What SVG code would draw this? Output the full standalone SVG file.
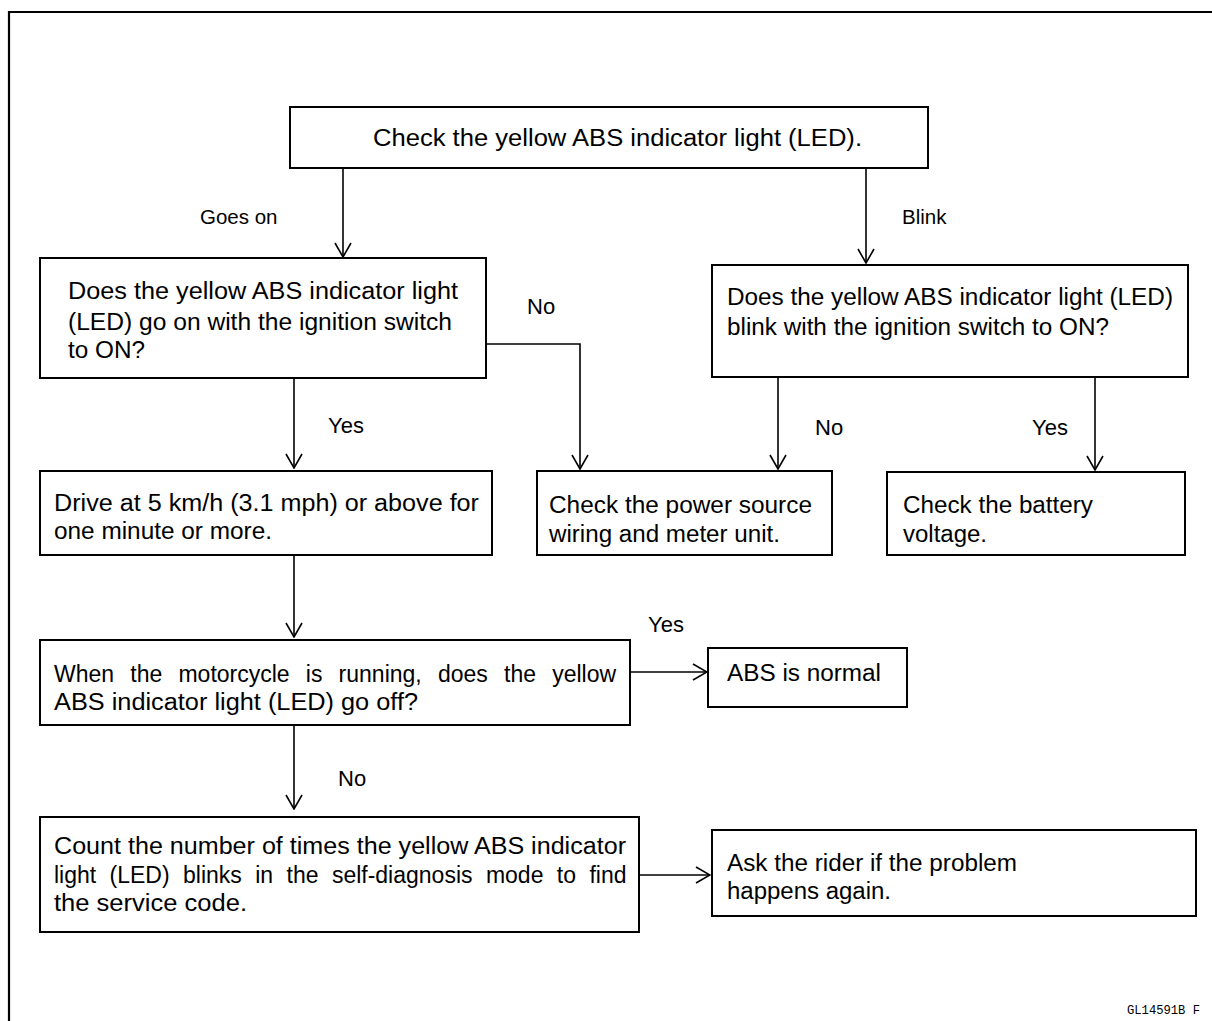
<svg xmlns="http://www.w3.org/2000/svg" width="1212" height="1021" viewBox="0 0 1212 1021">
<style>
.box{fill:#fff;stroke:#000;stroke-width:2}
.t{font-family:"Liberation Sans",Arial,sans-serif;font-size:23px;fill:#000}
.lbl{font-family:"Liberation Sans",Arial,sans-serif;font-size:22px;fill:#000}
.sm{font-family:"Liberation Sans",Arial,sans-serif;font-size:20.5px;fill:#000}
.c{fill:none;stroke:#000;stroke-width:1.6}
</style>
<defs>
<marker id="arr" viewBox="0 0 16 18" refX="15" refY="9" markerWidth="16" markerHeight="18" markerUnits="userSpaceOnUse" orient="auto">
<path d="M1,1 L15,9 L1,17" fill="none" stroke="#000" stroke-width="1.6"/>
</marker>
</defs>
<rect width="1212" height="1021" fill="#fff"/>
<path d="M9,1021 V12 H1212" fill="none" stroke="#000" stroke-width="2.2"/>

<g id="connectors">
<path class="c" d="M343,168 V257" marker-end="url(#arr)"/>
<path class="c" d="M866,168 V263" marker-end="url(#arr)"/>
<path class="c" d="M486,344 H580 V469" marker-end="url(#arr)"/>
<path class="c" d="M778,378 V469" marker-end="url(#arr)"/>
<path class="c" d="M1095,378 V470" marker-end="url(#arr)"/>
<path class="c" d="M294,378 V468" marker-end="url(#arr)"/>
<path class="c" d="M294,555 V637" marker-end="url(#arr)"/>
<path class="c" d="M630,672 H707" marker-end="url(#arr)"/>
<path class="c" d="M294,725 V809" marker-end="url(#arr)"/>
<path class="c" d="M639,875 H710" marker-end="url(#arr)"/>
<text class="sm" x="200" y="224">Goes on</text>
<text class="sm" x="902" y="224">Blink</text>
<text class="lbl" x="527" y="314">No</text>
<text class="lbl" x="328" y="433">Yes</text>
<text class="lbl" x="815" y="435">No</text>
<text class="lbl" x="1032" y="435">Yes</text>
<text class="lbl" x="648" y="632">Yes</text>
<text class="lbl" x="338" y="786">No</text>
</g>

<g id="start">
<rect class="box" x="290" y="107" width="638" height="61"/>
<text class="t" x="373" y="146" textLength="489" lengthAdjust="spacingAndGlyphs">Check the yellow ABS indicator light (LED).</text>
</g>

<g id="q-goes-on">
<rect class="box" x="40" y="258" width="446" height="120"/>
<text class="t" x="68" y="299" textLength="390" lengthAdjust="spacingAndGlyphs">Does the yellow ABS indicator light</text>
<text class="t" x="68" y="330" textLength="384" lengthAdjust="spacingAndGlyphs">(LED) go on with the ignition switch</text>
<text class="t" x="68" y="358" textLength="77" lengthAdjust="spacingAndGlyphs">to ON?</text>
</g>

<g id="q-blink">
<rect class="box" x="712" y="265" width="476" height="112"/>
<text class="t" x="727" y="305" textLength="446" lengthAdjust="spacingAndGlyphs">Does the yellow ABS indicator light (LED)</text>
<text class="t" x="727" y="335" textLength="382" lengthAdjust="spacingAndGlyphs">blink with the ignition switch to ON?</text>
</g>

<g id="drive">
<rect class="box" x="40" y="471" width="452" height="84"/>
<text class="t" x="54" y="511" textLength="425" lengthAdjust="spacingAndGlyphs">Drive at 5 km/h (3.1 mph) or above for</text>
<text class="t" x="54" y="539" textLength="218" lengthAdjust="spacingAndGlyphs">one minute or more.</text>
</g>

<g id="power">
<rect class="box" x="537" y="471" width="295" height="84"/>
<text class="t" x="549" y="513" textLength="263" lengthAdjust="spacingAndGlyphs">Check the power source</text>
<text class="t" x="549" y="542" textLength="231" lengthAdjust="spacingAndGlyphs">wiring and meter unit.</text>
</g>

<g id="battery">
<rect class="box" x="887" y="472" width="298" height="83"/>
<text class="t" x="903" y="513" textLength="190" lengthAdjust="spacingAndGlyphs">Check the battery</text>
<text class="t" x="903" y="542" textLength="84" lengthAdjust="spacingAndGlyphs">voltage.</text>
</g>

<g id="q-running">
<rect class="box" x="40" y="640" width="590" height="85"/>
<text class="t" x="54" y="682" word-spacing="9.8">When the motorcycle is running, does the yellow</text>
<text class="t" x="54" y="710" textLength="364" lengthAdjust="spacingAndGlyphs">ABS indicator light (LED) go off?</text>
</g>

<g id="normal">
<rect class="box" x="708" y="648" width="199" height="59"/>
<text class="t" x="727" y="681" textLength="154" lengthAdjust="spacingAndGlyphs">ABS is normal</text>
</g>

<g id="count">
<rect class="box" x="40" y="817" width="599" height="115"/>
<text class="t" x="54" y="854" textLength="572" lengthAdjust="spacingAndGlyphs">Count the number of times the yellow ABS indicator</text>
<text class="t" x="54" y="883" word-spacing="7">light (LED) blinks in the self-diagnosis mode to find</text>
<text class="t" x="54" y="911" textLength="193" lengthAdjust="spacingAndGlyphs">the service code.</text>
</g>

<g id="ask">
<rect class="box" x="712" y="830" width="484" height="86"/>
<text class="t" x="727" y="871" textLength="290" lengthAdjust="spacingAndGlyphs">Ask the rider if the problem</text>
<text class="t" x="727" y="899" textLength="164" lengthAdjust="spacingAndGlyphs">happens again.</text>
</g>

<text x="1127" y="1014" font-family="'Liberation Mono',monospace" font-size="12.5" fill="#000" textLength="73" lengthAdjust="spacingAndGlyphs">GL14591B  F</text>
</svg>
